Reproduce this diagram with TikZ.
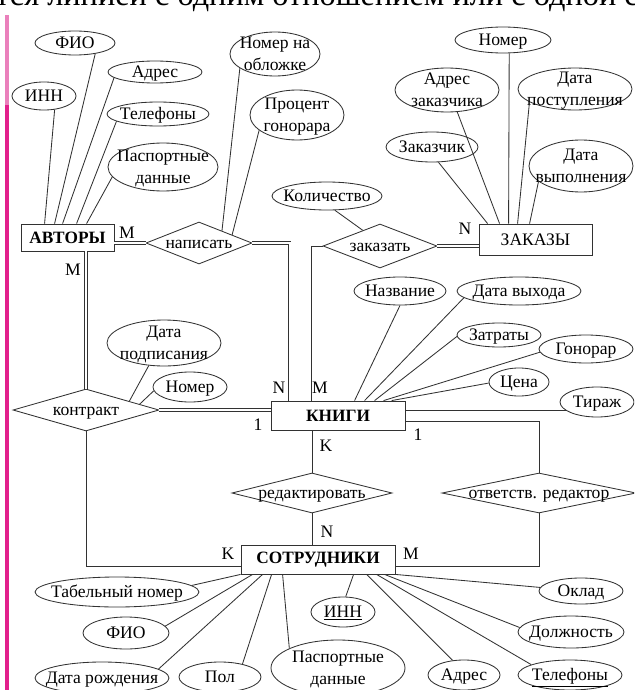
\documentclass[tikz,border=0pt]{standalone}
\usepackage{fontspec}
\setmainfont{Liberation Serif}
\usetikzlibrary{shapes.geometric,calc}

\definecolor{barpink}{RGB}{226,32,140}
\definecolor{barlight}{RGB}{234,128,188}
\definecolor{ink}{RGB}{50,50,50}

% text of a node that does not change the size of its shape
\newcommand{\lbl}[1]{\raisebox{-.3em}[0pt][0pt]{\makebox[0pt]{\begin{tabular}{@{}c@{}}#1\end{tabular}}}}

\tikzset{
  ent/.style={draw=ink, rectangle, inner sep=0pt, font=\fontsize{12.3}{15}\selectfont\bfseries},
  attr/.style={draw=ink, ellipse, inner sep=0pt},
  rel/.style={draw=ink, diamond, inner sep=0pt},
  wh/.style 2 args={minimum width=#1*0.025cm, minimum height=#2*0.025cm},
  dbl/.style={double=white, double distance=1.5pt},
}

\begin{document}
\begin{tikzpicture}[x=0.025cm, y=-0.025cm, font=\fontsize{12.5}{15.5}\selectfont, line width=0.6pt]
\clip (0,0) rectangle (634,690);
\fill[white] (0,0) rectangle (634,690);
\node[anchor=base west, inner sep=0pt, font=\fontsize{23}{27}\selectfont] (hdr) at (-5,6) {тся линией с одним отношением или с одной с};
\fill[barlight] (4.5,15) rectangle (9,105);
\fill[barpink] (4.5,105) rectangle (9,690);

% entities
\node[ent, wh={93}{27}] (avt) at (67.5,237.5) {АВТОРЫ};
\node[ent, wh={113}{31}, font=\fontsize{12.5}{15}\selectfont] (zak) at (535.5,239.5) {ЗАКАЗЫ};
\node[ent, wh={134}{29}] (kn) at (338,415.5) {КНИГИ};
\node[ent, wh={154}{29}] (sot) at (318,559.5) {СОТРУДНИКИ};

% relationships
\node[rel, wh={106}{42}] (nap) at (199,243) {\lbl{написать}};
\node[rel, wh={114}{44}] (zkz) at (380,246) {\lbl{заказать}};
\node[rel, wh={146}{42}] (kon) at (86,410) {\lbl{контракт}};
\node[rel, wh={160}{40}] (red) at (312,493) {\lbl{редактировать}};
\node[rel, wh={194}{40}] (otv) at (539,493) {\lbl{ответств. редактор}};

% attributes
\node[attr, wh={64}{28}] (innA) at (44,96) {\lbl{ИНН}};
\node[attr, wh={80}{24}] (fioA) at (75,43) {\lbl{ФИО}};
\node[attr, wh={94}{22}] (adrA) at (155,72) {\lbl{Адрес}};
\node[attr, wh={102}{24}] (telA) at (158,114) {\lbl{Телефоны}};
\node[attr, wh={110}{48}] (pasA) at (163,167) {\lbl{Паспортные\\данные}};
\node[attr, wh={90}{44}] (oblN) at (275,54) {\lbl{Номер на\\обложке}};
\node[attr, wh={94}{50}] (prcN) at (297,115) {\lbl{Процент\\гонорара}};
\node[attr, wh={110}{28}] (kolZ) at (327,196) {\lbl{Количество}};
\node[attr, wh={96}{26}] (nomZ) at (503,40) {\lbl{Номер}};
\node[attr, wh={104}{44}] (adzZ) at (447,90) {\lbl{Адрес\\заказчика}};
\node[attr, wh={114}{42}] (dpoZ) at (575,89) {\lbl{Дата\\поступления}};
\node[attr, wh={92}{30}] (zchZ) at (432,147) {\lbl{Заказчик}};
\node[attr, wh={104}{52}] (dvyZ) at (581,166) {\lbl{Дата\\выполнения}};
\node[attr, wh={114}{46}] (dpdK) at (164,343) {\lbl{Дата\\подписания}};
\node[attr, wh={74}{30}] (nomK) at (190,387) {\lbl{Номер}};
\node[attr, wh={92}{28}] (nazB) at (400,291) {\lbl{Название}};
\node[attr, wh={124}{28}] (dvxB) at (519,291) {\lbl{Дата выхода}};
\node[attr, wh={84}{24}] (ztrB) at (499,335) {\lbl{Затраты}};
\node[attr, wh={94}{28}] (gonB) at (586,349) {\lbl{Гонорар}};
\node[attr, wh={60}{28}] (cenB) at (519,382) {\lbl{Цена}};
\node[attr, wh={74}{30}] (tirB) at (597,402) {\lbl{Тираж}};
\node[attr, wh={164}{30}] (tabS) at (117,592) {\lbl{Табельный номер}};
\node[attr, wh={86}{32}] (fioS) at (126,633) {\lbl{ФИО}};
\node[attr, wh={134}{32}] (droS) at (102,678) {\lbl{Дата рождения}};
\node[attr, wh={82}{30}] (polS) at (220,677) {\lbl{Пол}};
\node[attr, wh={134}{56}] (pasS) at (338,668) {\lbl{Паспортные\\данные}};
\node[attr, wh={64}{30}] (innS) at (343,612) {\lbl{\underline{ИНН}}};
\node[attr, wh={72}{30}] (adrS) at (464,675) {\lbl{Адрес}};
\node[attr, wh={104}{30}] (telS) at (570,675) {\lbl{\underline{Телефоны}}};
\node[attr, wh={106}{32}] (dolS) at (571,632) {\lbl{Должность}};
\node[attr, wh={84}{26}] (oklS) at (581,591) {\lbl{Оклад}};

% cardinalities
\node (mAN) at (127,233) {M};
\node (mAK) at (73,270) {M};
\node (nNK) at (279,388) {N};
\node (mZK) at (320,388) {M};
\node (nZZ) at (465,229) {N};
\node (oKK) at (258,425) {1};
\node (oOK) at (418,435) {1};
\node (kRK) at (326,446) {K};
\node (nRS) at (327,532) {N};
\node (kKS) at (228,554) {K};
\node (mOS) at (411,554) {M};

\begin{scope}[draw=ink]
\draw[dbl] (avt.east |- nap.west) -- (nap.west);
\draw[dbl] (nap.east) -| ($(kn.north west)+(19,0)$);
\draw ($(kn.north west)+(41,0)$) |- (zkz.west);
\draw[dbl] (zkz.east) -- (zkz.east -| zak.west);
\draw[dbl] (avt.south -| kon.north) -- (kon.north);
\draw[dbl] (kon.east) -- (kon.east -| kn.west);
\draw (kon.south) |- ($(sot.south west)+(0,-8)$);
\draw (kn.south -| red.north) -- (red.north);
\draw (red.south) -- (red.south |- sot.north);
\draw ($(kn.south east)+(0,-9)$) -| (otv.north);
\draw (otv.south) |- ($(sot.south east)+(0,-8)$);

\draw (innA.-52) -- ($(avt.north west)+(24,0)$);
\draw (fioA.-28) -- ($(avt.north west)+(34,0)$);
\draw (adrA.-172) -- ($(avt.north west)+(42,0)$);
\draw (telA.-170) -- ($(avt.north west)+(56,0)$);
\draw (pasA.-169) -- ($(avt.north west)+(66,0)$);
\draw (oblN.-158) -- ($(nap.north)!0.43!(nap.east)$);
\draw (prcN.-158) -- ($(nap.north)!0.62!(nap.east)$);
\draw (kolZ.-61) -- ($(zkz.west)!0.7!(zkz.north)$);

\draw (zchZ.-67) -- ($(zak.north west)+(9,0)$);
\draw (adzZ.-65) -- ($(zak.north west)+(21,0)$);
\draw (nomZ.-65) -- ($(zak.north west)+(30,0)$);
\draw (dpoZ.-164) -- ($(zak.north west)+(39,0)$);
\draw (dvyZ.-160) -- ($(zak.north west)+(51,0)$);

\draw (dpdK.-124) -- ($(kon.north)!0.59!(kon.east)$);
\draw (nomK.-174) -- ($(kon.north)!0.73!(kon.east)$);

\draw (nazB.south) -- ($(kn.north west)+(84,0)$);
\draw (dvxB.-173) -- ($(kn.north west)+(94,0)$);
\draw (ztrB.-178) -- ($(kn.north west)+(104,0)$);
\draw (gonB.-176) -- ($(kn.north west)+(113,0)$);
\draw (cenB.-178) -- ($(kn.north west)+(121,0)$);
\draw (tirB.195 -| kn.east) -- (tirB.195);

\draw (tabS.5) -- (sot.south west);
\draw (fioS.10) -- ($(sot.south west)+(12,0)$);
\draw (droS.9) -- ($(sot.south west)+(22,0)$);
\draw (polS.30) -- ($(sot.south west)+(31,0)$);
\draw (pasS.158) -- ($(sot.south west)+(42,0)$);
\draw (innS.80) -- ($(sot.south west)+(113,0)$);
\draw (adrS.128) -- ($(sot.south west)+(126,0)$);
\draw (telS.165) -- ($(sot.south west)+(136,0)$);
\draw (dolS.175) -- ($(sot.south west)+(144,0)$);
\draw (oklS.175) -- (sot.south east);
\end{scope}
\end{tikzpicture}
\end{document}
